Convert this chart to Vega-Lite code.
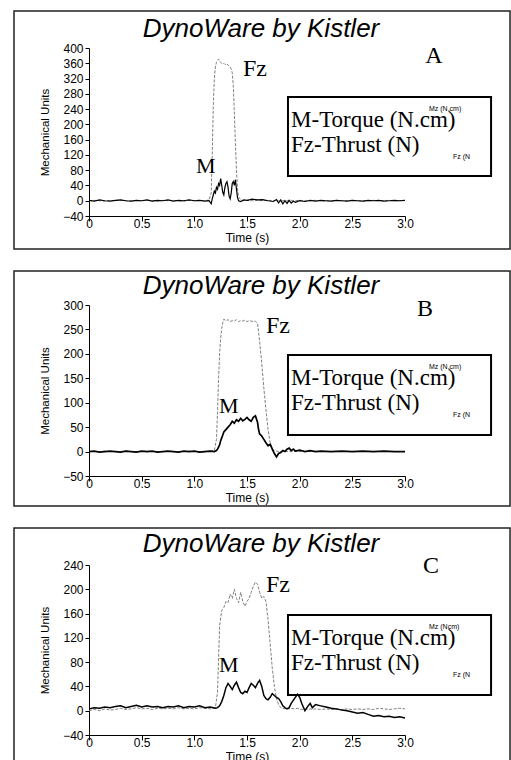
{
"$schema": "https://vega.github.io/schema/vega-lite/v6.json",
"padding": {"left": 13, "top": 10, "right": 0, "bottom": 0},
"spacing": 20,
"background": "white",
"config": {
  "view": {"stroke": null},
  "axis": {"grid": false, "domainColor": "black", "tickColor": "black", "labelColor": "black", "titleColor": "black", "labelFont": "Liberation Sans", "titleFont": "Liberation Sans", "labelFontSize": 12, "titleFontSize": 12, "titleFontWeight": "normal", "tickSize": 4, "labelFlush": false, "labelOverlap": false},
  "text": {"font": "Liberation Serif", "fontSize": 22, "align": "left", "baseline": "alphabetic", "color": "black"}
},
"datasets": {
"A": [{"t":0,"M":1,"Fz":0},{"t":0.05,"M":-1,"Fz":1},{"t":0.1,"M":2,"Fz":0},{"t":0.15,"M":0,"Fz":-1},{"t":0.2,"M":-1,"Fz":1},{"t":0.25,"M":1,"Fz":0},{"t":0.3,"M":2,"Fz":1},{"t":0.35,"M":0,"Fz":0},{"t":0.4,"M":-1,"Fz":-1},{"t":0.45,"M":1,"Fz":1},{"t":0.5,"M":0,"Fz":0},{"t":0.55,"M":2,"Fz":1},{"t":0.6,"M":-1,"Fz":0},{"t":0.65,"M":1,"Fz":-1},{"t":0.7,"M":0,"Fz":1},{"t":0.75,"M":2,"Fz":0},{"t":0.8,"M":-1,"Fz":1},{"t":0.85,"M":1,"Fz":0},{"t":0.9,"M":0,"Fz":-1},{"t":0.95,"M":2,"Fz":1},{"t":1.0,"M":0,"Fz":0},{"t":1.05,"M":1,"Fz":1},{"t":1.1,"M":-1,"Fz":0},{"t":1.14,"M":0,"Fz":2},{"t":1.16,"M":-8,"Fz":20},{"t":1.17,"M":5,"Fz":120},{"t":1.18,"M":15,"Fz":250},{"t":1.19,"M":25,"Fz":320},{"t":1.2,"M":20,"Fz":350},{"t":1.21,"M":35,"Fz":362},{"t":1.22,"M":30,"Fz":368},{"t":1.23,"M":45,"Fz":371},{"t":1.24,"M":40,"Fz":366},{"t":1.25,"M":58,"Fz":362},{"t":1.26,"M":40,"Fz":360},{"t":1.27,"M":22,"Fz":358},{"t":1.28,"M":15,"Fz":360},{"t":1.29,"M":35,"Fz":357},{"t":1.3,"M":45,"Fz":356},{"t":1.31,"M":50,"Fz":358},{"t":1.32,"M":35,"Fz":355},{"t":1.33,"M":12,"Fz":352},{"t":1.34,"M":5,"Fz":350},{"t":1.35,"M":20,"Fz":345},{"t":1.36,"M":45,"Fz":335},{"t":1.37,"M":50,"Fz":300},{"t":1.38,"M":40,"Fz":230},{"t":1.39,"M":55,"Fz":150},{"t":1.4,"M":30,"Fz":80},{"t":1.41,"M":8,"Fz":30},{"t":1.42,"M":0,"Fz":10},{"t":1.44,"M":-2,"Fz":3},{"t":1.47,"M":2,"Fz":0},{"t":1.5,"M":1,"Fz":1},{"t":1.55,"M":4,"Fz":0},{"t":1.6,"M":2,"Fz":1},{"t":1.65,"M":3,"Fz":0},{"t":1.7,"M":0,"Fz":1},{"t":1.75,"M":-2,"Fz":0},{"t":1.78,"M":3,"Fz":1},{"t":1.8,"M":-6,"Fz":0},{"t":1.82,"M":2,"Fz":-1},{"t":1.84,"M":-8,"Fz":0},{"t":1.86,"M":0,"Fz":1},{"t":1.88,"M":-7,"Fz":0},{"t":1.9,"M":1,"Fz":0},{"t":1.92,"M":-6,"Fz":1},{"t":1.94,"M":-1,"Fz":0},{"t":1.96,"M":-4,"Fz":0},{"t":2.0,"M":0,"Fz":1},{"t":2.05,"M":-2,"Fz":0},{"t":2.1,"M":1,"Fz":0},{"t":2.15,"M":-1,"Fz":1},{"t":2.2,"M":1,"Fz":0},{"t":2.25,"M":0,"Fz":-1},{"t":2.3,"M":-1,"Fz":0},{"t":2.35,"M":1,"Fz":1},{"t":2.4,"M":0,"Fz":0},{"t":2.45,"M":-1,"Fz":0},{"t":2.5,"M":1,"Fz":1},{"t":2.55,"M":0,"Fz":0},{"t":2.6,"M":-1,"Fz":-1},{"t":2.65,"M":1,"Fz":0},{"t":2.7,"M":0,"Fz":1},{"t":2.75,"M":1,"Fz":0},{"t":2.8,"M":-1,"Fz":0},{"t":2.85,"M":0,"Fz":1},{"t":2.9,"M":1,"Fz":0},{"t":2.95,"M":0,"Fz":0},{"t":3.0,"M":1,"Fz":1}],
"B": [{"t":0,"M":0,"Fz":0},{"t":0.05,"M":1,"Fz":0},{"t":0.1,"M":-1,"Fz":0},{"t":0.15,"M":0,"Fz":1},{"t":0.2,"M":1,"Fz":0},{"t":0.25,"M":0,"Fz":0},{"t":0.3,"M":-1,"Fz":0},{"t":0.35,"M":1,"Fz":1},{"t":0.4,"M":0,"Fz":0},{"t":0.45,"M":-1,"Fz":0},{"t":0.5,"M":1,"Fz":0},{"t":0.55,"M":0,"Fz":1},{"t":0.6,"M":1,"Fz":0},{"t":0.65,"M":-1,"Fz":0},{"t":0.7,"M":0,"Fz":0},{"t":0.75,"M":1,"Fz":1},{"t":0.8,"M":0,"Fz":0},{"t":0.85,"M":-1,"Fz":0},{"t":0.9,"M":1,"Fz":0},{"t":0.95,"M":0,"Fz":1},{"t":1.0,"M":1,"Fz":0},{"t":1.05,"M":-1,"Fz":0},{"t":1.1,"M":0,"Fz":0},{"t":1.15,"M":1,"Fz":1},{"t":1.19,"M":0,"Fz":2},{"t":1.21,"M":2,"Fz":25},{"t":1.22,"M":5,"Fz":80},{"t":1.23,"M":9,"Fz":150},{"t":1.24,"M":14,"Fz":200},{"t":1.25,"M":22,"Fz":232},{"t":1.26,"M":28,"Fz":252},{"t":1.27,"M":34,"Fz":264},{"t":1.28,"M":40,"Fz":271},{"t":1.3,"M":45,"Fz":268},{"t":1.32,"M":50,"Fz":270},{"t":1.34,"M":55,"Fz":266},{"t":1.36,"M":62,"Fz":268},{"t":1.38,"M":58,"Fz":267},{"t":1.4,"M":65,"Fz":270},{"t":1.42,"M":62,"Fz":266},{"t":1.44,"M":68,"Fz":268},{"t":1.46,"M":63,"Fz":267},{"t":1.48,"M":66,"Fz":269},{"t":1.5,"M":70,"Fz":266},{"t":1.52,"M":65,"Fz":268},{"t":1.54,"M":62,"Fz":267},{"t":1.56,"M":70,"Fz":266},{"t":1.58,"M":73,"Fz":267},{"t":1.6,"M":60,"Fz":262},{"t":1.61,"M":45,"Fz":245},{"t":1.62,"M":36,"Fz":225},{"t":1.64,"M":32,"Fz":180},{"t":1.66,"M":25,"Fz":130},{"t":1.68,"M":18,"Fz":85},{"t":1.7,"M":12,"Fz":45},{"t":1.72,"M":15,"Fz":18},{"t":1.74,"M":5,"Fz":6},{"t":1.76,"M":-4,"Fz":2},{"t":1.78,"M":-11,"Fz":1},{"t":1.8,"M":-4,"Fz":0},{"t":1.82,"M":-2,"Fz":0},{"t":1.84,"M":2,"Fz":0},{"t":1.86,"M":0,"Fz":0},{"t":1.88,"M":5,"Fz":0},{"t":1.9,"M":7,"Fz":0},{"t":1.92,"M":2,"Fz":0},{"t":1.94,"M":5,"Fz":0},{"t":1.96,"M":1,"Fz":0},{"t":2.0,"M":3,"Fz":0},{"t":2.05,"M":0,"Fz":0},{"t":2.1,"M":2,"Fz":0},{"t":2.15,"M":0,"Fz":0},{"t":2.2,"M":1,"Fz":0},{"t":2.3,"M":0,"Fz":0},{"t":2.4,"M":1,"Fz":0},{"t":2.5,"M":0,"Fz":0},{"t":2.6,"M":1,"Fz":0},{"t":2.7,"M":0,"Fz":0},{"t":2.8,"M":1,"Fz":0},{"t":2.9,"M":0,"Fz":0},{"t":3.0,"M":0,"Fz":0}],
"C": [{"t":0,"M":3,"Fz":0},{"t":0.05,"M":5,"Fz":2},{"t":0.1,"M":4,"Fz":0},{"t":0.15,"M":6,"Fz":3},{"t":0.2,"M":5,"Fz":1},{"t":0.25,"M":7,"Fz":2},{"t":0.3,"M":8,"Fz":4},{"t":0.35,"M":5,"Fz":2},{"t":0.4,"M":7,"Fz":3},{"t":0.45,"M":9,"Fz":5},{"t":0.5,"M":6,"Fz":3},{"t":0.55,"M":8,"Fz":4},{"t":0.6,"M":6,"Fz":2},{"t":0.65,"M":7,"Fz":4},{"t":0.7,"M":5,"Fz":3},{"t":0.75,"M":7,"Fz":4},{"t":0.8,"M":6,"Fz":3},{"t":0.85,"M":8,"Fz":5},{"t":0.9,"M":5,"Fz":3},{"t":0.95,"M":7,"Fz":4},{"t":1.0,"M":6,"Fz":3},{"t":1.05,"M":8,"Fz":5},{"t":1.1,"M":5,"Fz":4},{"t":1.15,"M":6,"Fz":3},{"t":1.2,"M":4,"Fz":5},{"t":1.22,"M":5,"Fz":30},{"t":1.24,"M":8,"Fz":140},{"t":1.26,"M":15,"Fz":165},{"t":1.28,"M":25,"Fz":170},{"t":1.3,"M":38,"Fz":180},{"t":1.32,"M":45,"Fz":178},{"t":1.34,"M":40,"Fz":192},{"t":1.36,"M":35,"Fz":185},{"t":1.38,"M":42,"Fz":200},{"t":1.4,"M":47,"Fz":185},{"t":1.42,"M":38,"Fz":178},{"t":1.44,"M":30,"Fz":195},{"t":1.46,"M":28,"Fz":180},{"t":1.48,"M":32,"Fz":172},{"t":1.5,"M":30,"Fz":180},{"t":1.52,"M":38,"Fz":185},{"t":1.54,"M":45,"Fz":195},{"t":1.56,"M":42,"Fz":205},{"t":1.58,"M":38,"Fz":212},{"t":1.6,"M":45,"Fz":208},{"t":1.62,"M":50,"Fz":195},{"t":1.64,"M":40,"Fz":185},{"t":1.66,"M":25,"Fz":188},{"t":1.68,"M":20,"Fz":180},{"t":1.7,"M":18,"Fz":150},{"t":1.72,"M":22,"Fz":110},{"t":1.74,"M":28,"Fz":70},{"t":1.76,"M":25,"Fz":40},{"t":1.78,"M":22,"Fz":20},{"t":1.8,"M":20,"Fz":10},{"t":1.82,"M":15,"Fz":5},{"t":1.84,"M":8,"Fz":4},{"t":1.86,"M":5,"Fz":3},{"t":1.88,"M":3,"Fz":4},{"t":1.9,"M":5,"Fz":3},{"t":1.92,"M":12,"Fz":4},{"t":1.95,"M":20,"Fz":3},{"t":1.98,"M":27,"Fz":4},{"t":2.0,"M":22,"Fz":3},{"t":2.02,"M":12,"Fz":2},{"t":2.05,"M":0,"Fz":3},{"t":2.08,"M":8,"Fz":2},{"t":2.1,"M":12,"Fz":3},{"t":2.12,"M":5,"Fz":2},{"t":2.15,"M":10,"Fz":3},{"t":2.2,"M":8,"Fz":2},{"t":2.25,"M":6,"Fz":3},{"t":2.3,"M":4,"Fz":2},{"t":2.35,"M":3,"Fz":3},{"t":2.4,"M":1,"Fz":2},{"t":2.45,"M":0,"Fz":3},{"t":2.5,"M":-2,"Fz":2},{"t":2.55,"M":-4,"Fz":3},{"t":2.6,"M":-3,"Fz":2},{"t":2.65,"M":-6,"Fz":3},{"t":2.7,"M":-9,"Fz":2},{"t":2.75,"M":-8,"Fz":4},{"t":2.8,"M":-10,"Fz":3},{"t":2.85,"M":-9,"Fz":2},{"t":2.9,"M":-11,"Fz":3},{"t":2.95,"M":-10,"Fz":4},{"t":3.0,"M":-12,"Fz":3}]
},
"vconcat": [
{
 "width": 316, "height": 168,
 "layer": [
  {"data": {"name": "A"}, "mark": {"type": "line", "color": "#808080", "strokeWidth": 1, "strokeDash": [3,1.5]},
   "encoding": {"x": {"field": "t", "type": "quantitative", "scale": {"domain": [0,3], "nice": false}, "axis": {"title": "Time (s)", "values": [0,0.5,1,1.5,2,2.5,3], "tickCount": 30, "labelExpr": "datum.value == 0 ? '0' : format(datum.value, '.1f')", "tickSize": 5, "labelPadding": -3, "titlePadding": 3}}, "y": {"field": "Fz", "type": "quantitative", "scale": {"domain": [-40,400], "nice": false}, "axis": {"title": "Mechanical Units", "values": [-40,0,40,80,120,160,200,240,280,320,360,400], "tickCount": 30, "titlePadding": 12, "labelPadding": 2, "titleFontSize": 11.5}}}},
  {"data": {"name": "A"}, "mark": {"type": "line", "color": "black", "strokeWidth": 1.2},
   "encoding": {"x": {"field": "t", "type": "quantitative", "scale": {"domain": [0,3], "nice": false}}, "y": {"field": "M", "type": "quantitative", "scale": {"domain": [-40,400], "nice": false}}}},
  {"data": {"values": [{}]}, "mark": {"type": "rect", "filled": false, "stroke": "#222", "strokeWidth": 1.5},
   "encoding": {"x": {"datum": -0.712, "type": "quantitative", "scale": {"domain": [0,3], "nice": false}}, "x2": {"datum": 3.997}, "y": {"datum": 496.9, "type": "quantitative", "scale": {"domain": [-40,400], "nice": false}}, "y2": {"datum": -126.4}}},
  {"data": {"values": [{}]}, "mark": {"type": "text", "text": "DynoWare by Kistler", "font": "Liberation Sans", "fontStyle": "italic", "fontSize": 26, "align": "center"},
   "encoding": {"x": {"datum": 1.633, "type": "quantitative", "scale": {"domain": [0,3], "nice": false}}, "y": {"datum": 428.8, "type": "quantitative", "scale": {"domain": [-40,400], "nice": false}}}},
  {"data": {"values": [{}]}, "mark": {"type": "text", "text": "A", "fontSize": 24, "align": "center"},
   "encoding": {"x": {"datum": 3.275, "type": "quantitative", "scale": {"domain": [0,3], "nice": false}}, "y": {"datum": 360.7, "type": "quantitative", "scale": {"domain": [-40,400], "nice": false}}}},
  {"data": {"values": [{}]}, "mark": {"type": "text", "text": "Fz", "fontSize": 24},
   "encoding": {"x": {"datum": 1.462, "type": "quantitative", "scale": {"domain": [0,3], "nice": false}}, "y": {"datum": 326.7, "type": "quantitative", "scale": {"domain": [-40,400], "nice": false}}}},
  {"data": {"values": [{}]}, "mark": {"type": "text", "text": "M", "fontSize": 22},
   "encoding": {"x": {"datum": 1.016, "type": "quantitative", "scale": {"domain": [0,3], "nice": false}}, "y": {"datum": 72.6, "type": "quantitative", "scale": {"domain": [-40,400], "nice": false}}}},
  {"data": {"values": [{}]}, "mark": {"type": "rect", "filled": false, "stroke": "black", "strokeWidth": 2},
   "encoding": {"x": {"datum": 1.889, "type": "quantitative", "scale": {"domain": [0,3], "nice": false}}, "x2": {"datum": 3.817}, "y": {"datum": 271.7, "type": "quantitative", "scale": {"domain": [-40,400], "nice": false}}, "y2": {"datum": 64.8}}},
  {"data": {"values": [{}]}, "mark": {"type": "text", "text": ["M-Torque (N.cm)", "Fz-Thrust (N)"], "fontSize": 23, "lineHeight": 25},
   "encoding": {"x": {"datum": 1.918, "type": "quantitative", "scale": {"domain": [0,3], "nice": false}}, "y": {"datum": 193.1, "type": "quantitative", "scale": {"domain": [-40,400], "nice": false}}}},
  {"data": {"values": [{}]}, "mark": {"type": "text", "text": "Mz (N.cm)", "font": "Liberation Sans", "fontSize": 7, "baseline": "middle"},
   "encoding": {"x": {"datum": 3.228, "type": "quantitative", "scale": {"domain": [0,3], "nice": false}}, "y": {"datum": 240.2, "type": "quantitative", "scale": {"domain": [-40,400], "nice": false}}}},
  {"data": {"values": [{}]}, "mark": {"type": "text", "text": "Fz (N", "font": "Liberation Sans", "fontSize": 7, "baseline": "middle"},
   "encoding": {"x": {"datum": 3.456, "type": "quantitative", "scale": {"domain": [0,3], "nice": false}}, "y": {"datum": 114.5, "type": "quantitative", "scale": {"domain": [-40,400], "nice": false}}}}
 ]
},
{
 "width": 316, "height": 171,
 "layer": [
  {"data": {"name": "B"}, "mark": {"type": "line", "color": "#808080", "strokeWidth": 1, "strokeDash": [3,1.5]},
   "encoding": {"x": {"field": "t", "type": "quantitative", "scale": {"domain": [0,3], "nice": false}, "axis": {"title": "Time (s)", "values": [0,0.5,1,1.5,2,2.5,3], "tickCount": 30, "labelExpr": "datum.value == 0 ? '0' : format(datum.value, '.1f')", "tickSize": 5, "labelPadding": -3, "titlePadding": 3}}, "y": {"field": "Fz", "type": "quantitative", "scale": {"domain": [-50,300], "nice": false}, "axis": {"title": "Mechanical Units", "values": [-50,0,50,100,150,200,250,300], "tickCount": 30, "titlePadding": 12, "labelPadding": 2, "titleFontSize": 11.5}}}},
  {"data": {"name": "B"}, "mark": {"type": "line", "color": "black", "strokeWidth": 1.7},
   "encoding": {"x": {"field": "t", "type": "quantitative", "scale": {"domain": [0,3], "nice": false}}, "y": {"field": "M", "type": "quantitative", "scale": {"domain": [-50,300], "nice": false}}}},
  {"data": {"values": [{}]}, "mark": {"type": "rect", "filled": false, "stroke": "#222", "strokeWidth": 1.5},
   "encoding": {"x": {"datum": -0.712, "type": "quantitative", "scale": {"domain": [0,3], "nice": false}}, "x2": {"datum": 3.997}, "y": {"datum": 369.6, "type": "quantitative", "scale": {"domain": [-50,300], "nice": false}}, "y2": {"datum": -111.4}}},
  {"data": {"values": [{}]}, "mark": {"type": "text", "text": "DynoWare by Kistler", "font": "Liberation Sans", "fontStyle": "italic", "fontSize": 26, "align": "center"},
   "encoding": {"x": {"datum": 1.633, "type": "quantitative", "scale": {"domain": [0,3], "nice": false}}, "y": {"datum": 322.5, "type": "quantitative", "scale": {"domain": [-50,300], "nice": false}}}},
  {"data": {"values": [{}]}, "mark": {"type": "text", "text": "B", "fontSize": 24, "align": "center"},
   "encoding": {"x": {"datum": 3.19, "type": "quantitative", "scale": {"domain": [0,3], "nice": false}}, "y": {"datum": 277.5, "type": "quantitative", "scale": {"domain": [-50,300], "nice": false}}}},
  {"data": {"values": [{}]}, "mark": {"type": "text", "text": "Fz", "fontSize": 24},
   "encoding": {"x": {"datum": 1.68, "type": "quantitative", "scale": {"domain": [0,3], "nice": false}}, "y": {"datum": 242.7, "type": "quantitative", "scale": {"domain": [-50,300], "nice": false}}}},
  {"data": {"values": [{}]}, "mark": {"type": "text", "text": "M", "fontSize": 22},
   "encoding": {"x": {"datum": 1.234, "type": "quantitative", "scale": {"domain": [0,3], "nice": false}}, "y": {"datum": 78.9, "type": "quantitative", "scale": {"domain": [-50,300], "nice": false}}}},
  {"data": {"values": [{}]}, "mark": {"type": "rect", "filled": false, "stroke": "black", "strokeWidth": 2},
   "encoding": {"x": {"datum": 1.889, "type": "quantitative", "scale": {"domain": [0,3], "nice": false}}, "x2": {"datum": 3.817}, "y": {"datum": 197.7, "type": "quantitative", "scale": {"domain": [-50,300], "nice": false}}, "y2": {"datum": 33.9}}},
  {"data": {"values": [{}]}, "mark": {"type": "text", "text": ["M-Torque (N.cm)", "Fz-Thrust (N)"], "fontSize": 23, "lineHeight": 25},
   "encoding": {"x": {"datum": 1.918, "type": "quantitative", "scale": {"domain": [0,3], "nice": false}}, "y": {"datum": 136.3, "type": "quantitative", "scale": {"domain": [-50,300], "nice": false}}}},
  {"data": {"values": [{}]}, "mark": {"type": "text", "text": "Mz (N.cm)", "font": "Liberation Sans", "fontSize": 7, "baseline": "middle"},
   "encoding": {"x": {"datum": 3.228, "type": "quantitative", "scale": {"domain": [0,3], "nice": false}}, "y": {"datum": 173.1, "type": "quantitative", "scale": {"domain": [-50,300], "nice": false}}}},
  {"data": {"values": [{}]}, "mark": {"type": "text", "text": "Fz (N", "font": "Liberation Sans", "fontSize": 7, "baseline": "middle"},
   "encoding": {"x": {"datum": 3.456, "type": "quantitative", "scale": {"domain": [0,3], "nice": false}}, "y": {"datum": 74.9, "type": "quantitative", "scale": {"domain": [-50,300], "nice": false}}}}
 ]
},
{
 "width": 316, "height": 170,
 "layer": [
  {"data": {"name": "C"}, "mark": {"type": "line", "color": "#808080", "strokeWidth": 1, "strokeDash": [3,1.5]},
   "encoding": {"x": {"field": "t", "type": "quantitative", "scale": {"domain": [0,3], "nice": false}, "axis": {"title": "Time (s)", "values": [0,0.5,1,1.5,2,2.5,3], "tickCount": 30, "labelExpr": "datum.value == 0 ? '0' : format(datum.value, '.1f')", "tickSize": 5, "labelPadding": -3, "titlePadding": 3}}, "y": {"field": "Fz", "type": "quantitative", "scale": {"domain": [-40,240], "nice": false}, "axis": {"title": "Mechanical Units", "values": [-40,0,40,80,120,160,200,240], "tickCount": 30, "titlePadding": 12, "labelPadding": 2, "titleFontSize": 11.5}}}},
  {"data": {"name": "C"}, "mark": {"type": "line", "color": "black", "strokeWidth": 1.5},
   "encoding": {"x": {"field": "t", "type": "quantitative", "scale": {"domain": [0,3], "nice": false}}, "y": {"field": "M", "type": "quantitative", "scale": {"domain": [-40,240], "nice": false}}}},
  {"data": {"values": [{}]}, "mark": {"type": "rect", "filled": false, "stroke": "#222", "strokeWidth": 1.5},
   "encoding": {"x": {"datum": -0.712, "type": "quantitative", "scale": {"domain": [0,3], "nice": false}}, "x2": {"datum": 3.997}, "y": {"datum": 300.9, "type": "quantitative", "scale": {"domain": [-40,240], "nice": false}}, "y2": {"datum": -114.1}}},
  {"data": {"values": [{}]}, "mark": {"type": "text", "text": "DynoWare by Kistler", "font": "Liberation Sans", "fontStyle": "italic", "fontSize": 26, "align": "center"},
   "encoding": {"x": {"datum": 1.633, "type": "quantitative", "scale": {"domain": [0,3], "nice": false}}, "y": {"datum": 261.4, "type": "quantitative", "scale": {"domain": [-40,240], "nice": false}}}},
  {"data": {"values": [{}]}, "mark": {"type": "text", "text": "C", "fontSize": 24, "align": "center"},
   "encoding": {"x": {"datum": 3.247, "type": "quantitative", "scale": {"domain": [0,3], "nice": false}}, "y": {"datum": 226.8, "type": "quantitative", "scale": {"domain": [-40,240], "nice": false}}}},
  {"data": {"values": [{}]}, "mark": {"type": "text", "text": "Fz", "fontSize": 24},
   "encoding": {"x": {"datum": 1.68, "type": "quantitative", "scale": {"domain": [0,3], "nice": false}}, "y": {"datum": 195.5, "type": "quantitative", "scale": {"domain": [-40,240], "nice": false}}}},
  {"data": {"values": [{}]}, "mark": {"type": "text", "text": "M", "fontSize": 22},
   "encoding": {"x": {"datum": 1.234, "type": "quantitative", "scale": {"domain": [0,3], "nice": false}}, "y": {"datum": 63.8, "type": "quantitative", "scale": {"domain": [-40,240], "nice": false}}}},
  {"data": {"values": [{}]}, "mark": {"type": "rect", "filled": false, "stroke": "black", "strokeWidth": 2},
   "encoding": {"x": {"datum": 1.889, "type": "quantitative", "scale": {"domain": [0,3], "nice": false}}, "x2": {"datum": 3.817}, "y": {"datum": 157.6, "type": "quantitative", "scale": {"domain": [-40,240], "nice": false}}, "y2": {"datum": 25.9}}},
  {"data": {"values": [{}]}, "mark": {"type": "text", "text": ["M-Torque (N.cm)", "Fz-Thrust (N)"], "fontSize": 23, "lineHeight": 25},
   "encoding": {"x": {"datum": 1.918, "type": "quantitative", "scale": {"domain": [0,3], "nice": false}}, "y": {"datum": 108.2, "type": "quantitative", "scale": {"domain": [-40,240], "nice": false}}}},
  {"data": {"values": [{}]}, "mark": {"type": "text", "text": "Mz (Ncm)", "font": "Liberation Sans", "fontSize": 7, "baseline": "middle"},
   "encoding": {"x": {"datum": 3.228, "type": "quantitative", "scale": {"domain": [0,3], "nice": false}}, "y": {"datum": 137.9, "type": "quantitative", "scale": {"domain": [-40,240], "nice": false}}}},
  {"data": {"values": [{}]}, "mark": {"type": "text", "text": "Fz (N", "font": "Liberation Sans", "fontSize": 7, "baseline": "middle"},
   "encoding": {"x": {"datum": 3.456, "type": "quantitative", "scale": {"domain": [0,3], "nice": false}}, "y": {"datum": 58.8, "type": "quantitative", "scale": {"domain": [-40,240], "nice": false}}}}
 ]
}
]
}
